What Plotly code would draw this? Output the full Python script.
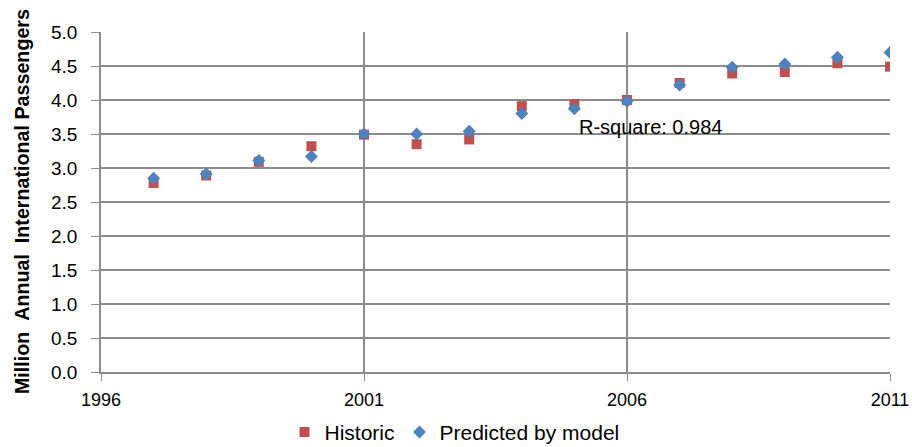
import plotly.graph_objects as go

years = [1997, 1998, 1999, 2000, 2001, 2002, 2003, 2004, 2005, 2006, 2007, 2008, 2009, 2010, 2011]
historic = [2.78, 2.89, 3.09, 3.32, 3.49, 3.35, 3.42, 3.91, 3.94, 4.00, 4.25, 4.39, 4.41, 4.54, 4.49]
predicted = [2.85, 2.91, 3.11, 3.17, 3.50, 3.50, 3.54, 3.80, 3.87, 3.98, 4.22, 4.48, 4.53, 4.63, 4.70]
x_ticks = [1996, 2001, 2006, 2011]
y_ticks = [0.0, 0.5, 1.0, 1.5, 2.0, 2.5, 3.0, 3.5, 4.0, 4.5, 5.0]

GRID = "#8c8c8c"
FONT = "Liberation Sans, Arial, sans-serif"
NB = "\u00a0"

fig = go.Figure()
fig.add_trace(go.Scatter(x=years, y=historic, mode="markers", name="Historic",
                         marker=dict(symbol="square", size=10, color="#C0504D")))
fig.add_trace(go.Scatter(x=years, y=predicted, mode="markers", name="Predicted by model",
                         marker=dict(symbol="diamond", size=10, color="#4F81BD")))

fig.add_annotation(x=2005.05, y=3.6, text="R-square: 0.984", showarrow=False,
                   xanchor="left", yanchor="middle",
                   font=dict(family=FONT, size=20, color="black"))
fig.add_annotation(x=-0.1, y=0.5, xref="paper", yref="paper",
                   text=f"Million{NB}{NB}Annual{NB}{NB}International{NB}Passengers", textangle=-90,
                   showarrow=False, xanchor="center", yanchor="middle",
                   font=dict(family=FONT, size=19.7, color="black", weight="bold"))

fig.update_layout(
    width=912, height=447,
    margin=dict(l=101, r=22, t=32, b=75),
    plot_bgcolor="white", paper_bgcolor="white",
    font=dict(family=FONT, size=19, color="black"),
    showlegend=True,
    legend=dict(orientation="h", x=0.448, xanchor="center", xref="paper",
                y=0.033, yanchor="middle", yref="container",
                font=dict(family=FONT, size=21), tracegroupgap=0),
    xaxis=dict(range=[1996, 2011], tickvals=x_ticks, ticktext=[str(v) for v in x_ticks],
               tickfont=dict(size=18),
               showgrid=True, gridcolor=GRID, gridwidth=1.5,
               showline=True, linecolor=GRID, linewidth=1.5,
               ticks="outside", ticklen=7, tickcolor=GRID, zeroline=False,
               automargin=False, ticklabelstandoff=4, ticklabeloverflow="allow"),
    yaxis=dict(range=[0, 5], tickvals=y_ticks, ticktext=[f"{v:.1f}" for v in y_ticks],
               showgrid=True, gridcolor=GRID, gridwidth=1.5,
               showline=True, linecolor=GRID, linewidth=1.5,
               ticks="outside", ticklen=8, tickcolor=GRID, zeroline=False,
               automargin=False, ticklabelstandoff=10),
)

fig.write_html("out.html")
